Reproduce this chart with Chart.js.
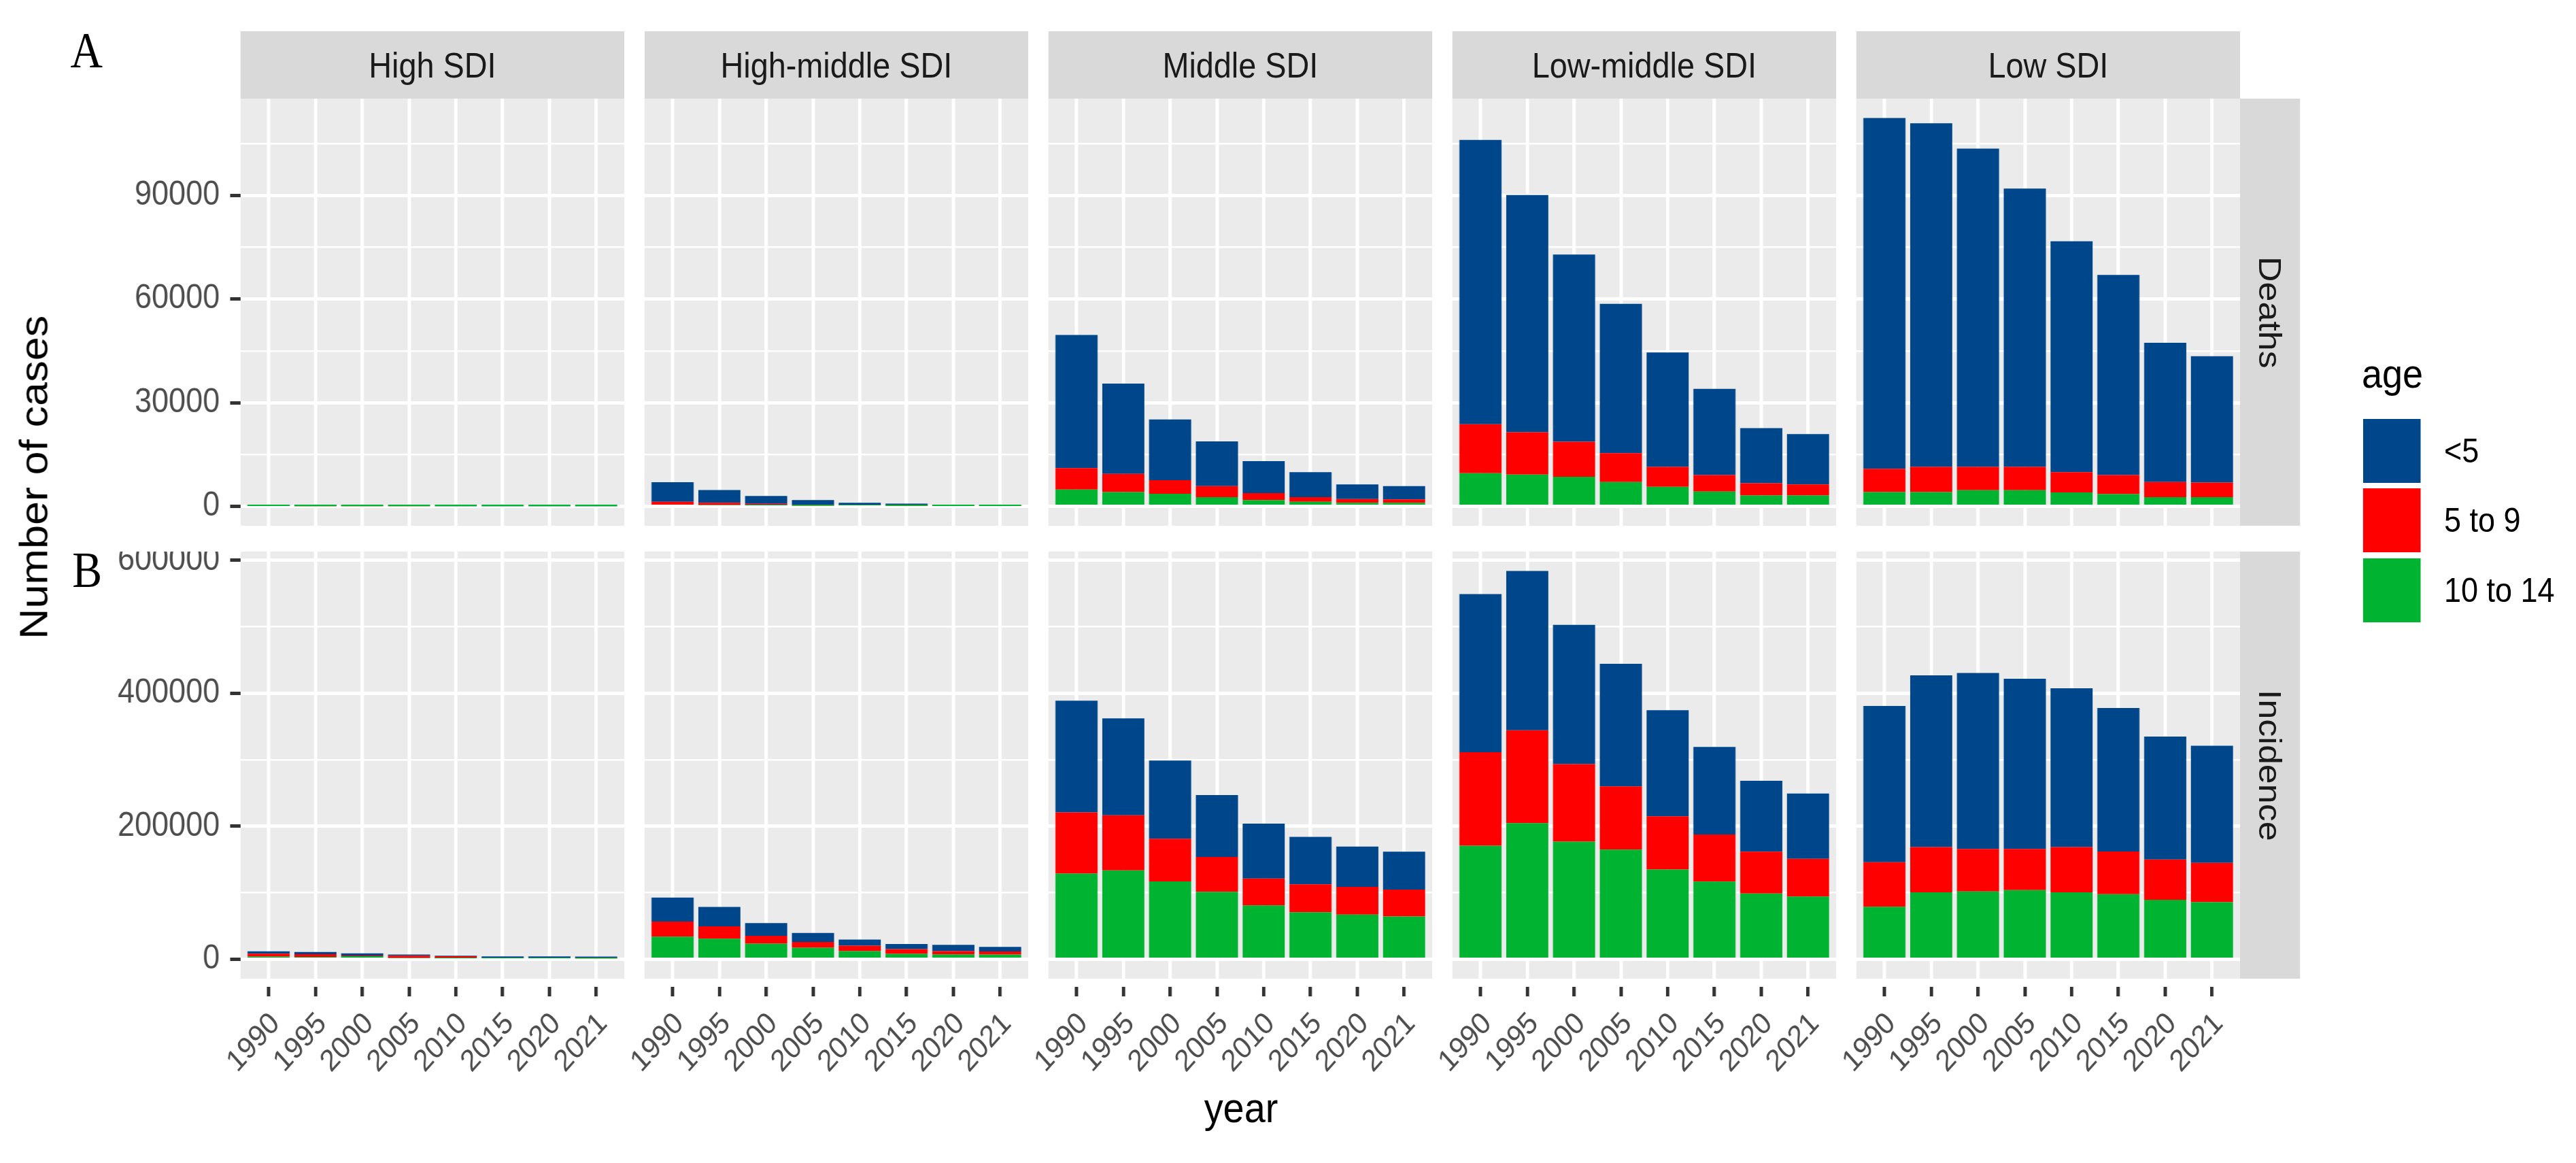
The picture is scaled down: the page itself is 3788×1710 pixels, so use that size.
<!DOCTYPE html>
<html><head><meta charset="utf-8">
<script src="https://cdn.jsdelivr.net/npm/chart.js@4.4.1/dist/chart.umd.min.js"></script>
<style>
html,body{margin:0;padding:0;background:#fff;}
body{width:3788px;height:1710px;overflow:hidden;position:relative;}
#stage{position:absolute;left:0;top:0;width:4209px;height:1710px;transform:scaleX(0.9);transform-origin:0 0;font-family:"Liberation Sans",Arial,sans-serif;}
.t{position:absolute;line-height:1;white-space:nowrap;}
.strip{position:absolute;background:#D9D9D9;color:#1A1A1A;font-size:52px;display:flex;align-items:center;justify-content:center;line-height:1;white-space:nowrap;}
.vt{writing-mode:vertical-rl;}
.key{position:absolute;}
.lab{position:absolute;display:flex;align-items:center;font-size:50px;color:#000;line-height:1;white-space:nowrap;}
canvas{position:absolute;}
</style></head><body><div id="stage"></div>
<script>
const years = ['1990','1995','2000','2005','2010','2015','2020','2021'];
const regions = ['High SDI','High-middle SDI','Middle SDI','Low-middle SDI','Low SDI'];
const measures = ['Deaths','Incidence'];
const ageGroups = ['<5','5 to 9','10 to 14'];
const ageColors = ['#00468B','#FF0000','#00B330'];

// rows = regions (High, High-middle, Middle, Low-middle, Low); columns = years
const deathsUnder5 = [
  [120,100,200,60,50,40,35,35],
  [5700,3700,2250,1300,550,350,150,120],
  [38510,26120,17590,12960,9240,7230,4230,3820],
  [82310,68650,54170,43220,33150,24940,15990,14560],
  [101500,99490,92140,80590,66830,57890,40300,36580]
];
const deaths5to9 = [
  [300,200,60,40,30,30,25,25],
  [800,600,450,300,150,300,250,230],
  [6220,5240,3920,3210,2010,1300,1100,1000],
  [14170,12250,10140,8350,5740,4810,3510,3210],
  [6740,7250,6740,6740,5830,5510,4410,4220]
];
const deaths10to14 = [
  [80,60,50,40,30,30,25,25],
  [500,400,300,200,300,150,100,100],
  [4850,4140,3640,2640,1830,1340,1030,1030],
  [9570,9180,8570,7050,5650,4250,3150,3150],
  [4140,4140,4650,4650,4040,3550,2640,2640]
];
const incidenceUnder5 = [
  [3700,3400,3300,1700,800,1800,1800,1700],
  [36000,29100,19200,13600,9300,7600,9300,6900],
  [168000,145900,117500,93000,82500,71200,60600,56900],
  [237800,239500,209400,184500,159500,131800,106600,98300],
  [235000,258300,264600,256000,238800,215900,185000,176200]
];
const incidence5to9 = [
  [4400,4000,1000,3400,3200,1200,1200,1100],
  [22800,18600,11700,8700,8100,7300,4900,4600],
  [92200,82800,64300,52500,40500,42000,41800,40600],
  [140700,139600,116800,95200,80100,70700,62800,56800],
  [67000,68000,64000,62000,68000,64000,60500,59000]
];
const incidence10to14 = [
  [4000,3500,4500,2000,1400,1400,1400,1300],
  [34000,30900,23500,17300,12300,8100,7400,7100],
  [128800,133700,117000,101500,81000,70800,67200,64300],
  [170800,204900,176800,164800,134900,116900,99000,94200],
  [79000,100700,102000,104000,100700,98000,89500,86000]
];
const deathsTicks = [0,30000,60000,90000];
const deathsMinorTicks = [15000,45000,75000,105000];
const incidenceTicks = [0,200000,400000,600000];
const incidenceMinorTicks = [100000,300000,500000];

// ---------- layout ----------
const S = 0.9;                       // horizontal squash of the whole figure
const FONT = 'Liberation Sans';
const stage = document.getElementById('stage');
const colLeftF = [354, 948, 1542, 2136, 2730];
const PANEL_WF = 564;
const rowTop = [145, 811];
const PANEL_H = 628;
const PW = Math.round(PANEL_WF / S);

const measureData = [
  [deaths10to14, deaths5to9, deathsUnder5],
  [incidence10to14, incidence5to9, incidenceUnder5]
];
const stackColors = [ageColors[2], ageColors[1], ageColors[0]];
const stackLabels = [ageGroups[2], ageGroups[1], ageGroups[0]];
const majorTicks = [deathsTicks, incidenceTicks];
const minorTicks = [deathsMinorTicks, incidenceMinorTicks];

function yLimits(row) {
  const [a, b, c] = measureData[row];
  let m = 0;
  for (let r = 0; r < regions.length; r++)
    for (let i = 0; i < years.length; i++) m = Math.max(m, a[r][i] + b[r][i] + c[r][i]);
  return {min: -0.05 * m, max: 1.05 * m};
}

const panelBg = {
  id: 'panelBg',
  beforeDraw(chart) {
    const {ctx, chartArea: a} = chart;
    ctx.save();
    ctx.fillStyle = '#EBEBEB';
    ctx.fillRect(a.left, a.top, a.right - a.left, a.bottom - a.top);
    ctx.restore();
  }
};

function el(cls, html, style) {
  const d = document.createElement('div');
  d.className = cls;
  d.innerHTML = html;
  Object.assign(d.style, style);
  stage.appendChild(d);
  return d;
}

function panel(row, col) {
  const leftPad = col === 0 ? 233 : (row === 1 ? 60 : 0);
  const bottomPad = row === 1 ? 262 : 0;
  const pl = Math.round(colLeftF[col] / S);
  const cv = document.createElement('canvas');
  const W = PW + leftPad, H = PANEL_H + bottomPad;
  cv.width = W; cv.height = H;
  cv.style.width = W + 'px'; cv.style.height = H + 'px';
  cv.style.left = (pl - leftPad) + 'px';
  cv.style.top = rowTop[row] + 'px';
  stage.appendChild(cv);
  const lim = yLimits(row);
  new Chart(cv, {
    type: 'bar',
    data: {
      datasets: measureData[row].map((arr, k) => ({
        label: stackLabels[k],
        data: years.map((y, i) => ({x: i, y: arr[col][i]})),
        backgroundColor: stackColors[k],
        borderWidth: 0,
        barPercentage: 0.9,
        categoryPercentage: 1.0
      }))
    },
    options: {
      responsive: false, animation: false, devicePixelRatio: 1,
      layout: {padding: 0},
      plugins: {legend: {display: false}, tooltip: {enabled: false}, title: {display: false}},
      scales: {
        x: {
          type: 'linear', position: 'bottom', min: -0.6, max: years.length - 1 + 0.6,
          stacked: true, offset: false,
          afterBuildTicks: s => { s.ticks = years.map((_, i) => ({value: i})); },
          afterFit: s => { s.height = bottomPad; s.paddingLeft = 0; s.paddingRight = 0; },
          ticks: {display: row === 1, autoSkip: false, minRotation: 45, maxRotation: 45, padding: 14, labelOffset: 11,
                  color: '#4D4D4D', font: {size: 45, family: FONT}, callback: v => years[v]},
          grid: {offset: false, color: '#FFFFFF', lineWidth: 5.5, drawTicks: row === 1, tickLength: 26, tickWidth: 5.5,
                 tickColor: '#333333', tickBorderDash: [0, 12, 14, 200]},
          border: {display: false}
        },
        y: {
          type: 'linear', position: 'left', min: lim.min, max: lim.max, stacked: true,
          afterBuildTicks: s => { s.ticks = majorTicks[row].map(v => ({value: v})); },
          afterFit: s => { s.width = leftPad; s.paddingTop = 0; s.paddingBottom = 0; },
          ticks: {display: col === 0, padding: 17, color: '#4D4D4D', font: {size: 50, family: FONT},
                  callback: v => String(v)},
          grid: {offset: false, color: '#FFFFFF', lineWidth: 5, drawTicks: col === 0, tickLength: 17, tickWidth: 5,
                 tickColor: '#333333'},
          border: {display: false}
        },
        yMinor: {
          type: 'linear', position: 'left', min: lim.min, max: lim.max,
          afterBuildTicks: s => { s.ticks = minorTicks[row].map(v => ({value: v})); },
          afterFit: s => { s.width = 0; s.paddingTop = 0; s.paddingBottom = 0; },
          ticks: {display: false},
          grid: {offset: false, color: '#FFFFFF', lineWidth: 2.5, drawTicks: false},
          border: {display: false}
        }
      }
    },
    plugins: [panelBg]
  });
}

for (let r = 0; r < measures.length; r++)
  for (let c = 0; c < regions.length; c++) panel(r, c);

// column strips
regions.forEach((name, c) => {
  el('strip', name, {left: Math.round(colLeftF[c] / S) + 'px', top: '46px', width: PW + 'px', height: '99px'});
});
// row strips
measures.forEach((name, r) => {
  el('strip vt', name, {left: Math.round(3294 / S) + 'px', top: rowTop[r] + 'px', width: '98px', height: PANEL_H + 'px'});
});

// panel tags
el('t', 'A', {left: '115px', top: '38px', fontFamily: '"Liberation Serif",serif', fontSize: '73px', color: '#000'});
el('t', 'B', {left: '118px', top: '802px', fontFamily: '"Liberation Serif",serif', fontSize: '73px', color: '#000'});

// axis titles
el('t vt', 'Number of cases', {left: (50 / S) + 'px', top: '702px', fontSize: '63px', color: '#000',
   transform: 'translate(-50%,-50%) rotate(180deg)'});
el('t', 'year', {left: (1825 / S) + 'px', top: '1598px', fontSize: '62px', color: '#000', transform: 'translateX(-50%)'});

// legend
el('t', 'age', {left: (3473 / S) + 'px', top: '520px', fontSize: '60px', color: '#000'});
const keyTops = [616, 718, 821];
ageGroups.forEach((g, k) => {
  el('key', '', {left: (3475 / S) + 'px', top: keyTops[k] + 'px', width: '94px', height: '94px', background: ageColors[k]});
  el('lab', g.replace('<', '&lt;'), {left: (3594 / S) + 'px', top: keyTops[k] + 'px', height: '94px'});
});
</script>
</body></html>
